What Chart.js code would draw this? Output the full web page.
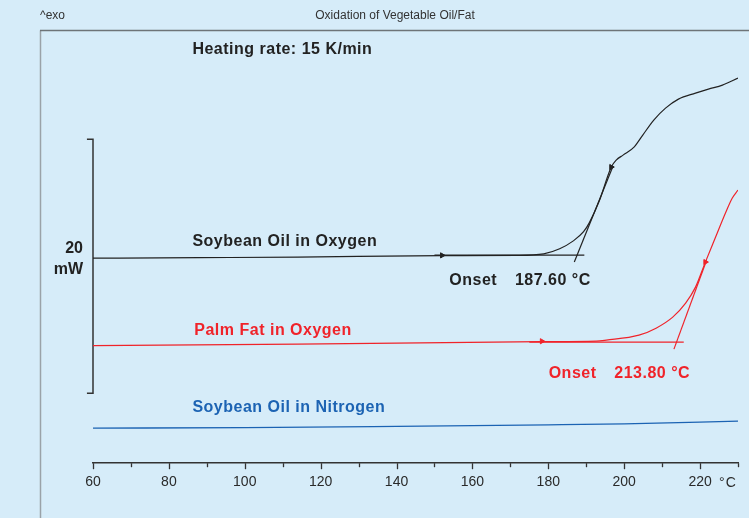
<!DOCTYPE html>
<html>
<head>
<meta charset="utf-8">
<script src="https://cdn.jsdelivr.net/npm/chart.js@4"></script>
<style>
  html, body { margin: 0; padding: 0; background: #d6ecf9; }
  canvas { display: block; }
</style>
</head>
<body>
<canvas id="myChart" width="749" height="518"></canvas>
<script>
// temperature (°C) / heat flow (mW, offset per curve)
var soyOxT = [60, 88, 114, 152, 171.7, 178.8, 183.0, 186.6, 189.3, 190.8, 193.4, 196.6, 197.9, 199.7, 202.6, 204.9, 207.8, 210.9, 214.3, 218.8, 222.2, 225.9, 230];
var soyOxV = [16.14, 16.18, 16.22, 16.34, 16.36, 16.48, 16.88, 17.50, 18.22, 18.92, 20.62, 23.31, 23.86, 24.25, 24.88, 25.83, 27.01, 27.95, 28.66, 29.13, 29.45, 29.76, 30.31];

var palmOxT = [60, 114, 178.3, 192.7, 195.3, 203.9, 208.4, 212.8, 216.2, 218.8, 221.4, 224.1, 226.7, 228.5, 230];
var palmOxV = [9.25, 9.37, 9.57, 9.61, 9.69, 10.08, 10.63, 11.50, 12.60, 13.86, 15.83, 17.80, 19.69, 20.87, 21.50];

var soyN2T = [60, 100, 140, 180, 200, 230];
var soyN2V = [2.76, 2.80, 2.90, 3.02, 3.10, 3.31];

// onset construction lines
var soyBaseT = [150, 189.5];
var soyBaseV = [16.38, 16.38];
var soySlopeT = [186.86, 197.07];
var soySlopeV = [15.83, 23.39];
var palmBaseT = [175, 215.7];
var palmBaseV = [9.53, 9.53];
var palmSlopeT = [213.12, 221.72];
var palmSlopeV = [8.98, 15.98];

// little flags on the curves
var soyFlagT = [152, 196.6];
var soyFlagV = [16.36, 23.31];
var palmFlagT = [178.3, 221.4];
var palmFlagV = [9.6, 15.83];

// 20 mW scale bar
var barT = [58.4, 60, 60, 58.4];
var barV = [25.5, 25.5, 5.5, 5.5];

var xTicks = [60, 80, 100, 120, 140, 160, 180, 200, 220];

function pts(xs, ys) {
  return xs.map(function (x, i) { return { x: x, y: ys[i] }; });
}

var BLACK = "#222222";
var RED = "#f0232a";
var BLUE = "#1c63b3";

var notes = [
  { text: "Heating rate: 15 K/min", x: 86.2, y: 32.2, color: BLACK },
  { text: "Soybean Oil in Oxygen", x: 86.2, y: 17.1, color: BLACK },
  { text: "Onset", x: 153.9, y: 14.0, color: BLACK },
  { text: "187.60 °C", x: 171.2, y: 14.0, color: BLACK },
  { text: "Palm Fat in Oxygen", x: 86.7, y: 10.08, color: RED },
  { text: "Onset", x: 180.1, y: 6.7, color: RED },
  { text: "213.80 °C", x: 197.4, y: 6.7, color: RED },
  { text: "Soybean Oil in Nitrogen", x: 86.2, y: 4.06, color: BLUE },
];

function line(data, color, width) {
  return {
    data: data,
    borderColor: color,
    borderWidth: width,
    pointRadius: 0,
    fill: false,
    tension: 0,
  };
}

var datasets = [
  Object.assign(line(pts(soyN2T, soyN2V), BLUE, 1.3), { cubicInterpolationMode: "monotone" }),
  Object.assign(line(pts(palmOxT, palmOxV), RED, 1.2), { cubicInterpolationMode: "monotone" }),
  Object.assign(line(pts(soyOxT, soyOxV), BLACK, 1.2), { cubicInterpolationMode: "monotone" }),
  line(pts(soyBaseT, soyBaseV), BLACK, 1.2),
  line(pts(soySlopeT, soySlopeV), BLACK, 1.2),
  line(pts(palmBaseT, palmBaseV), RED, 1.2),
  line(pts(palmSlopeT, palmSlopeV), RED, 1.2),
  Object.assign(line(pts(barT, barV), "#333333", 1.5), { clip: false }),
  {
    data: pts(soyFlagT, soyFlagV),
    showLine: false,
    pointStyle: "triangle",
    pointRadius: 3,
    rotation: 90,
    backgroundColor: BLACK,
    borderColor: BLACK,
    borderWidth: 1,
  },
  {
    data: pts(palmFlagT, palmFlagV),
    showLine: false,
    pointStyle: "triangle",
    pointRadius: 3,
    rotation: 90,
    backgroundColor: RED,
    borderColor: RED,
    borderWidth: 1,
  },
];

var decor = {
  id: "decor",
  beforeDraw: function (chart) {
    var ctx = chart.ctx;
    ctx.save();
    ctx.fillStyle = "#d6ecf9";
    ctx.fillRect(0, 0, chart.width, chart.height);
    ctx.strokeStyle = "#9aa2a8";
    ctx.lineWidth = 1.5;
    ctx.beginPath();
    ctx.moveTo(40.5, 518);
    ctx.lineTo(40.5, 30.5);
    ctx.stroke();
    ctx.strokeStyle = "#6e7478";
    ctx.beginPath();
    ctx.moveTo(40, 30.5);
    ctx.lineTo(749, 30.5);
    ctx.stroke();
    ctx.fillStyle = "#333333";
    ctx.font = '12px "Liberation Sans"';
    ctx.textBaseline = "middle";
    ctx.textAlign = "left";
    ctx.fillText("^exo", 40, 16);
    ctx.textAlign = "center";
    ctx.fillText("Oxidation of Vegetable Oil/Fat", 395, 16);
    ctx.restore();
  },
  afterDraw: function (chart) {
    var ctx = chart.ctx;
    var xs = chart.scales.x;
    var ys = chart.scales.y;
    ctx.save();
    // tick marks below the axis line
    ctx.strokeStyle = "#333333";
    ctx.lineWidth = 1.3;
    xs.ticks.forEach(function (t) {
      var px = Math.round(xs.getPixelForValue(t.value)) + 0.5;
      var len = t.value % 20 === 0 ? 6 : 4;
      ctx.beginPath();
      ctx.moveTo(px, xs.top);
      ctx.lineTo(px, xs.top + len);
      ctx.stroke();
    });
    ctx.fillStyle = "#2a2a2a";
    ctx.font = '14px "Liberation Sans"';
    ctx.textAlign = "left";
    ctx.textBaseline = "alphabetic";
    ctx.letterSpacing = "1px";
    ctx.fillText("°C", xs.getPixelForValue(220) + 19, xs.top + 23.5);

    ctx.font = 'bold 16px "Liberation Sans"';
    ctx.letterSpacing = "0.5px";
    notes.forEach(function (n) {
      ctx.fillStyle = n.color;
      ctx.fillText(n.text, xs.getPixelForValue(n.x), ys.getPixelForValue(n.y));
    });
    ctx.textAlign = "right";
    ctx.fillStyle = BLACK;
    ctx.letterSpacing = "0px";
    ctx.fillText("20", 83, 252.5);
    ctx.fillText("mW", 83, 274);
    ctx.restore();
  },
};

var ctx = document.getElementById("myChart").getContext("2d");
var myChart = new Chart(ctx, {
  type: "line",
  data: { datasets: datasets },
  options: {
    responsive: false,
    animation: false,
    layout: { padding: { left: 93, right: 7, top: 30, bottom: 16 } },
    scales: {
      x: {
        type: "linear",
        min: 60,
        max: 230,
        grid: { display: false, drawTicks: false },
        border: { display: true, color: "#333333", width: 1.5 },
        ticks: {
          stepSize: 10,
          autoSkip: false,
          maxRotation: 0,
          padding: 11,
          color: "#2a2a2a",
          font: { family: "Liberation Sans", size: 14 },
          callback: function (v) {
            return xTicks.indexOf(v) >= 0 ? String(v) : "";
          },
        },
      },
      y: { display: false, min: 0, max: 34.1 },
    },
    plugins: {
      legend: { display: false },
      tooltip: { enabled: false },
      title: { display: false },
    },
  },
  plugins: [decor],
});
</script>
</body>
</html>
